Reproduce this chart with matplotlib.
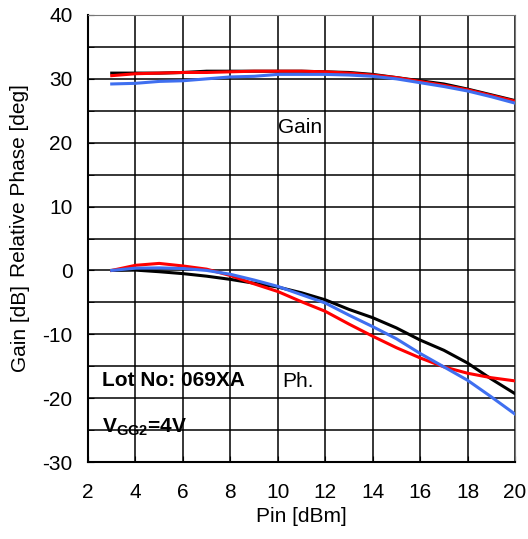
import numpy as np
import matplotlib.pyplot as plt
from matplotlib.ticker import MultipleLocator

plt.rcParams['font.family'] = ['Liberation Sans', 'DejaVu Sans']
plt.rcParams['mathtext.fontset'] = 'custom'
plt.rcParams['mathtext.rm'] = 'Liberation Sans'
plt.rcParams['mathtext.bf'] = 'Liberation Sans:bold'
plt.rcParams['axes.unicode_minus'] = False

# Входная мощность, дБм
pin = np.arange(3, 21)

# Усиление, дБ
gain_black = [30.9, 30.9, 30.9, 31.0, 31.2, 31.2, 31.2, 31.2, 31.2, 31.1,
              31.0, 30.7, 30.2, 29.7, 29.2, 28.4, 27.5, 26.6]
gain_red = [30.5, 30.8, 30.9, 31.0, 31.0, 31.1, 31.2, 31.2, 31.2, 31.1,
            30.9, 30.6, 30.2, 29.6, 29.0, 28.3, 27.4, 26.5]
gain_blue = [29.2, 29.3, 29.6, 29.7, 30.0, 30.3, 30.4, 30.7, 30.7, 30.7,
             30.6, 30.4, 30.0, 29.4, 28.8, 28.1, 27.2, 26.2]

# Относительная фаза, град
phase_black = [0.0, 0.05, -0.2, -0.5, -0.9, -1.4, -2.0, -2.6, -3.5, -4.6,
               -6.1, -7.4, -9.0, -10.9, -12.5, -14.5, -17.0, -19.3]
phase_red = [0.0, 0.8, 1.1, 0.7, 0.2, -0.8, -2.1, -3.3, -4.9, -6.4,
             -8.4, -10.3, -12.1, -13.7, -15.1, -16.1, -16.8, -17.3]
phase_blue = [0.0, 0.35, 0.4, 0.3, 0.0, -0.6, -1.5, -2.5, -3.8, -5.1,
              -7.0, -8.8, -10.7, -13.0, -15.1, -17.2, -19.8, -22.5]

fig = plt.figure(figsize=(5.28, 5.39), dpi=100)
ax = fig.add_axes([88 / 528, 1 - 462 / 539, 427 / 528, 447 / 539])

blue = '#3f6ff0'
lw = 2.2
fs = 15
ax.plot(pin, gain_black, color='black', lw=lw)
ax.plot(pin, gain_red, color='red', lw=lw)
ax.plot(pin, gain_blue, color=blue, lw=lw)
ax.plot(pin, phase_black, color='black', lw=lw)
ax.plot(pin, phase_red, color='red', lw=lw)
ax.plot(pin, phase_blue, color=blue, lw=lw)

ax.set_xlim(2, 20)
ax.set_ylim(-30, 40)
ax.xaxis.set_major_locator(MultipleLocator(2))
ax.yaxis.set_major_locator(MultipleLocator(10))
ax.yaxis.set_minor_locator(MultipleLocator(5))
ax.grid(True, which='major', color='black', lw=1.1)
ax.grid(True, which='minor', axis='y', color='black', lw=1.1)
ax.tick_params(direction='in', labelsize=fs, length=4)
ax.tick_params(axis='x', pad=15)
ax.tick_params(axis='y', pad=11)
ax.tick_params(which='minor', direction='in', length=4)
for s in ['top', 'right']:
    ax.spines[s].set_color('#777777')
for s in ['left', 'bottom']:
    ax.spines[s].set_linewidth(1.5)

ax.set_xlabel('Pin [dBm]', fontsize=fs, labelpad=4)
fig.text(20 / 528, 1 - 181 / 539, 'Relative Phase [deg]', rotation=90,
         fontsize=fs, ha='center', va='center')
fig.text(20 / 528, 1 - 329 / 539, 'Gain [dB]', rotation=90,
         fontsize=fs, ha='center', va='center')

ax.text(10.0, 22.4, 'Gain', fontsize=fs, va='center')
ax.text(10.2, -17.4, 'Ph.', fontsize=fs, va='center')
ax.text(2.6, -17.2, 'Lot No: 069XA', fontsize=fs, fontweight='bold', va='center')
ax.text(2.6, -24.6, r'$\mathbf{V_{GG2}}$=4V', fontsize=fs, fontweight='bold', va='center')

fig.savefig('out.png', dpi=100)
